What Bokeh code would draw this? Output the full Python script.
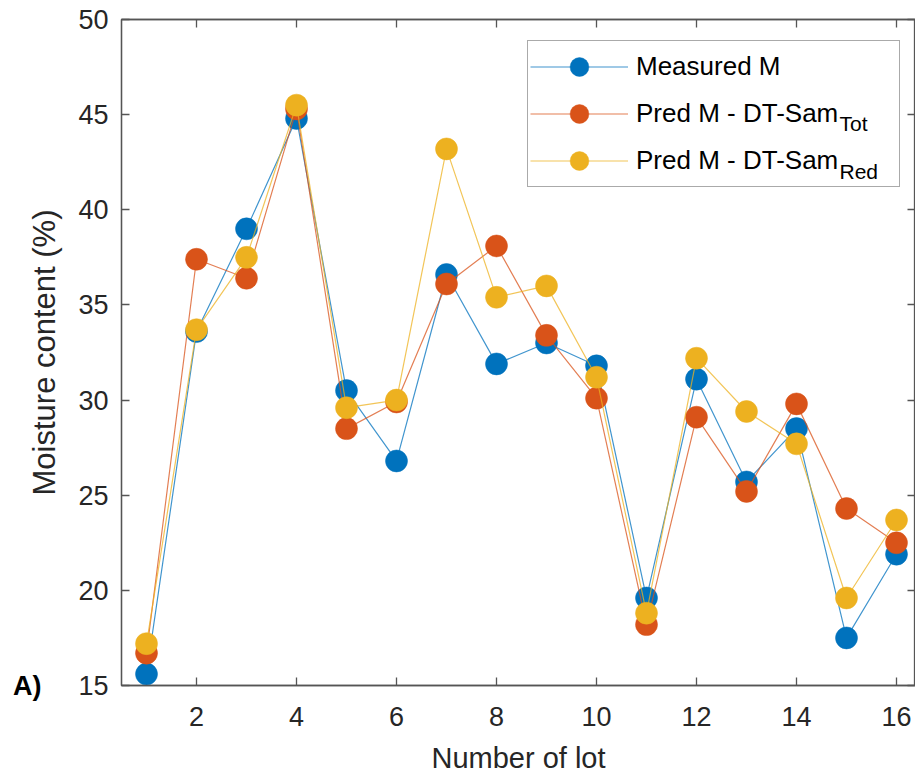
from bokeh.plotting import figure
from bokeh.models import (LinearAxis, FixedTicker, Range1d, Legend, LegendItem,
                          Label, ColumnDataSource)
from bokeh.embed import file_html
from bokeh.resources import INLINE

# ---- data ----
lots = list(range(1, 17))
measured = [15.6, 33.6, 39.0, 44.8, 30.5, 26.8, 36.6, 31.9, 33.0, 31.8, 19.6, 31.1, 25.7, 28.5, 17.5, 21.9]
pred_tot = [16.7, 37.4, 36.4, 45.3, 28.5, 29.9, 36.1, 38.1, 33.4, 30.1, 18.2, 29.1, 25.2, 29.8, 24.3, 22.5]
pred_red = [17.2, 33.7, 37.5, 45.5, 29.6, 30.0, 43.2, 35.4, 36.0, 31.2, 18.8, 32.2, 29.4, 27.7, 19.6, 23.7]
x_ticks = [2, 4, 6, 8, 10, 12, 14, 16]
y_ticks = [15, 20, 25, 30, 35, 40, 45, 50]
series_names = ["Measured M", "Pred M - DT-Sam", "Pred M - DT-Sam"]
subscripts = ["Tot", "Red"]
panel_tag = "A)"
colors = ["#0072BD", "#D95319", "#EDB120"]

FONT = "Liberation Sans"
AX = "#262626"
FRAME = "#555555"

p = figure(width=915, height=776, output_backend="svg", toolbar_location=None,
           x_range=Range1d(0.5, 16.38), y_range=Range1d(15, 50),
           min_border_left=121, min_border_right=0, min_border_top=19,
           min_border_bottom=91, background_fill_color="white",
           border_fill_color="white")
p.grid.visible = False
p.outline_line_color = FRAME
p.outline_line_width = 1.3

def style_axis(ax, labels=True):
    ax.major_tick_in = 8
    ax.major_tick_out = 0
    ax.minor_tick_line_color = None
    ax.axis_line_color = FRAME
    ax.axis_line_width = 1.3
    ax.major_tick_line_color = FRAME
    ax.major_tick_line_width = 1.3
    ax.major_label_text_font = FONT
    ax.major_label_text_color = AX
    if labels:
        ax.major_label_text_font_size = "27px"
    else:
        ax.major_label_overrides = {t: "" for t in ax.ticker.ticks}
        ax.major_label_standoff = 0

xb = p.xaxis[0]
xb.ticker = FixedTicker(ticks=x_ticks)
style_axis(xb)
xb.major_label_standoff = 21
xb.axis_label = "Number of lot"
xb.axis_label_text_font = FONT
xb.axis_label_text_font_size = "29px"
xb.axis_label_text_font_style = "normal"
xb.axis_label_text_color = AX
xb.axis_label_standoff = 13

yl = p.yaxis[0]
yl.ticker = FixedTicker(ticks=y_ticks)
style_axis(yl)
yl.major_label_standoff = 13
yl.axis_label = "Moisture content (%)"
yl.axis_label_text_font = FONT
yl.axis_label_text_font_size = "31px"
yl.axis_label_text_font_style = "normal"
yl.axis_label_text_color = AX
yl.axis_label_standoff = 13

# panel tag "A)" as an outer left axis label at the bottom tick
tag_ax = LinearAxis(ticker=FixedTicker(ticks=[y_ticks[0]]),
                    major_label_overrides={y_ticks[0]: panel_tag})
tag_ax.axis_line_color = None
tag_ax.major_tick_line_color = None
tag_ax.minor_tick_line_color = None
tag_ax.major_tick_in = 0
tag_ax.major_tick_out = 0
tag_ax.major_label_standoff = -17
tag_ax.major_label_text_font = FONT
tag_ax.major_label_text_font_size = "27px"
tag_ax.major_label_text_font_style = "bold"
tag_ax.major_label_text_color = "black"
p.add_layout(tag_ax, "left")

xt = LinearAxis(ticker=FixedTicker(ticks=x_ticks))
style_axis(xt, labels=False)
p.add_layout(xt, "above")
yr = LinearAxis(ticker=FixedTicker(ticks=y_ticks))
style_axis(yr, labels=False)
yr.axis_line_color = None
p.add_layout(yr, "right")

items = []
for name, vals, color in zip(series_names, [measured, pred_tot, pred_red], colors):
    src = ColumnDataSource(dict(x=lots, y=vals))
    ln = p.line("x", "y", source=src, line_color=color, line_width=1.2, line_alpha=0.75)
    sc = p.scatter("x", "y", source=src, size=22, fill_color=color, line_color=color,
                   line_width=0.5)
    items.append(LegendItem(label=name, renderers=[ln, sc]))

legend = Legend(items=items, location=(406, 498),
                label_text_font=FONT, label_text_font_size="26px",
                label_text_color="black",
                glyph_width=98, glyph_height=47, label_height=47, label_width=261,
                label_standoff=8, spacing=0, padding=2, margin=0,
                border_line_color=FRAME, border_line_width=1.3,
                background_fill_alpha=0.0)
p.add_layout(legend)

sub_x = 718
for txt, yb in zip(subscripts, [562, 514]):
    p.add_layout(Label(x=sub_x, y=yb, x_units="screen", y_units="screen", text=txt,
                       text_font=FONT, text_font_size="21px", text_color="black",
                       text_baseline="alphabetic", text_align="left"))

open("out.html", "w").write(file_html(p, INLINE))
